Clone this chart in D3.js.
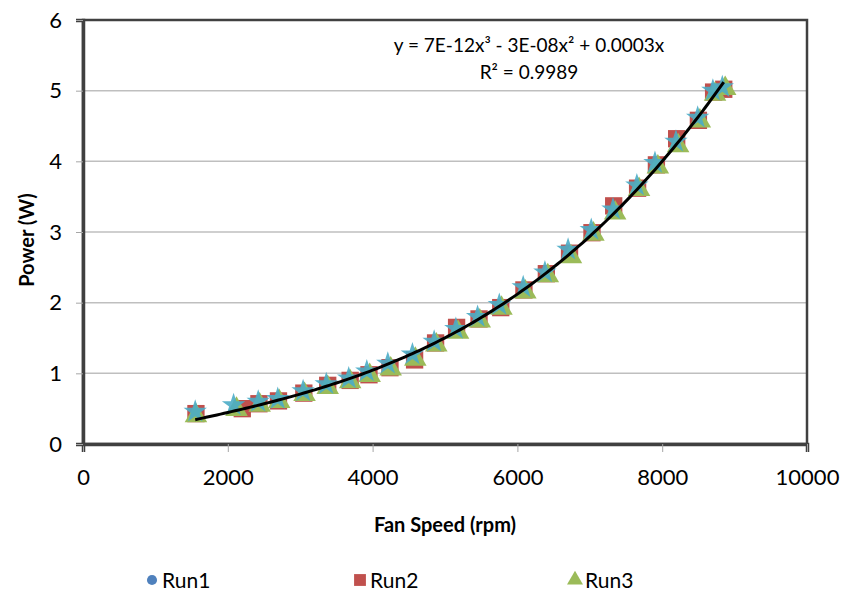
<!DOCTYPE html>
<html>
<head>
<meta charset="utf-8">
<script src="https://cdn.jsdelivr.net/npm/d3@7/dist/d3.min.js"></script>
<style>
  body { margin: 0; background: #fff; }
  text { font-family: Lato, "Noto Sans", sans-serif; fill: #000; }
</style>
</head>
<body>
<div class="chart"></div>
<script>
// fan speed (rpm) and power (W) for each run
var speed1 = [1550, 2080, 2420, 2690, 3040, 3360, 3670, 3920, 4210, 4550, 4850, 5150, 5450, 5750, 6080, 6380, 6700, 7020, 7320, 7650, 7900, 8190, 8490, 8700, 8830];
var power1 = [0.46, 0.55, 0.60, 0.64, 0.75, 0.85, 0.93, 1.03, 1.14, 1.27, 1.45, 1.63, 1.80, 1.97, 2.22, 2.43, 2.75, 3.03, 3.32, 3.66, 3.98, 4.28, 4.62, 5.00, 5.05];
var speed2 = [1560, 2200, 2430, 2700, 3050, 3380, 3690, 3950, 4240, 4580, 4870, 5160, 5470, 5770, 6090, 6400, 6720, 7030, 7330, 7660, 7920, 8200, 8500, 8710, 8850];
var power2 = [0.43, 0.50, 0.57, 0.61, 0.72, 0.83, 0.90, 0.98, 1.08, 1.19, 1.43, 1.65, 1.77, 1.93, 2.18, 2.41, 2.70, 2.99, 3.37, 3.62, 3.95, 4.32, 4.58, 4.98, 5.02];
var speed3 = [1560, 2120, 2440, 2710, 3060, 3380, 3690, 3960, 4250, 4590, 4880, 5180, 5480, 5780, 6110, 6420, 6740, 7050, 7350, 7680, 7940, 8220, 8520, 8730, 8870];
var power3 = [0.40, 0.49, 0.55, 0.60, 0.70, 0.80, 0.88, 0.97, 1.06, 1.20, 1.40, 1.58, 1.74, 1.92, 2.15, 2.38, 2.65, 2.97, 3.27, 3.60, 3.92, 4.22, 4.57, 4.95, 5.03];

var runNames = ['Run1', 'Run2', 'Run3'];
var xTicks = [0, 2000, 4000, 6000, 8000, 10000];
var yTicks = [0, 1, 2, 3, 4, 5, 6];
var equation = 'y = 7E-12x\u00b3 - 3E-08x\u00b2 + 0.0003x';
var rSquared = 'R\u00b2 = 0.9989';

var width = 842, height = 598;
var pLeft = 83, pRight = 807, pTop = 20, pBottom = 444;

var svg = d3.select('.chart')
			.append('svg')
			.attr('width', width)
			.attr('height', height);

var xscale = d3.scaleLinear().domain([0, 10000]).range([pLeft, pRight]);
var yscale = d3.scaleLinear().domain([0, 6]).range([pBottom, pTop]);

// grid lines
svg.append('g')
   .selectAll('line')
   .data(yTicks.slice(1, -1))
   .enter().append('line')
   .attr('x1', pLeft).attr('x2', pRight)
   .attr('y1', d => yscale(d)).attr('y2', d => yscale(d))
   .attr('stroke', '#bfbfbf').attr('stroke-width', 1.5);

// plot border
svg.append('rect')
   .attr('x', pLeft).attr('y', pTop)
   .attr('width', pRight - pLeft).attr('height', pBottom - pTop)
   .attr('fill', 'none').attr('stroke', '#404040').attr('stroke-width', 2.5);

// axes
var x_axis = d3.axisBottom(xscale).tickValues(xTicks).tickSize(8).tickPadding(17).tickFormat(d3.format('d'));
var y_axis = d3.axisLeft(yscale).tickValues(yTicks).tickSize(7).tickPadding(14).tickFormat(d3.format('d'));

var gx = svg.append('g').attr('transform', 'translate(0,' + pBottom + ')').call(x_axis);
var gy = svg.append('g').attr('transform', 'translate(' + pLeft + ',0)').call(y_axis);
[gx, gy].forEach(function(g) {
	g.select('.domain').attr('stroke', '#404040').attr('stroke-width', 3.5);
	g.selectAll('.tick line').attr('stroke', '#a6a6a6').attr('stroke-width', 1);
	g.selectAll('.tick text').style('font-family', 'Lato, sans-serif').style('font-size', '22px').attr('fill', '#000');
});

// axis titles
svg.append('text')
   .attr('x', (pLeft + pRight) / 2).attr('y', 532)
   .attr('text-anchor', 'middle')
   .style('font-size', '20px').style('font-weight', 'bold')
   .text('Fan Speed (rpm)');

svg.append('text')
   .attr('transform', 'translate(34,' + ((pTop + pBottom) / 2 + 8) + ') rotate(-90)')
   .attr('text-anchor', 'middle')
   .style('font-size', '20px').style('font-weight', 'bold')
   .text('Power (W)');

// markers
function pts(xs, ys) { return xs.map((x, i) => [x, ys[i]]); }

svg.append('g').selectAll('path')
   .data(pts(speed2, power2)).enter().append('path')
   .attr('d', d3.symbol().type(d3.symbolSquare).size(300))
   .attr('transform', d => 'translate(' + xscale(d[0]) + ',' + yscale(d[1]) + ')')
   .attr('fill', '#c0504d');

svg.append('g').selectAll('path')
   .data(pts(speed3, power3)).enter().append('path')
   .attr('d', d3.symbol().type(d3.symbolTriangle).size(220))
   .attr('transform', d => 'translate(' + xscale(d[0]) + ',' + yscale(d[1]) + ')')
   .attr('fill', '#9bbb59');

svg.append('g').selectAll('path')
   .data(pts(speed1, power1)).enter().append('path')
   .attr('d', d3.symbol().type(d3.symbolStar).size(170))
   .attr('transform', d => 'translate(' + xscale(d[0]) + ',' + yscale(d[1]) + ')')
   .attr('fill', '#4bacc6').attr('opacity', 0.9);

// cubic trendline through origin, least squares over all runs
var all = pts(speed1, power1).concat(pts(speed2, power2), pts(speed3, power3));
var M = [[0,0,0],[0,0,0],[0,0,0]], V = [0,0,0];
all.forEach(function(p) {
	var x = p[0] / 1000, f = [x*x*x, x*x, x];
	for (var i = 0; i < 3; i++) {
		V[i] += f[i] * p[1];
		for (var j = 0; j < 3; j++) M[i][j] += f[i] * f[j];
	}
});
function solve(A, b) {
	var n = 3, a = A.map((r, i) => r.concat([b[i]]));
	for (var i = 0; i < n; i++) {
		for (var k = i + 1; k < n; k++) {
			var m = a[k][i] / a[i][i];
			for (var j = i; j <= n; j++) a[k][j] -= m * a[i][j];
		}
	}
	var x = [0,0,0];
	for (var i = n - 1; i >= 0; i--) {
		var s = a[i][n];
		for (var j = i + 1; j < n; j++) s -= a[i][j] * x[j];
		x[i] = s / a[i][i];
	}
	return x;
}
var coef = solve(M, V);
var xmin = d3.min(all, d => d[0]), xmax = d3.max(all, d => d[0]);
var curve = d3.range(xmin, xmax + 1, 50).map(function(x) {
	var u = x / 1000;
	return [x, coef[0]*u*u*u + coef[1]*u*u + coef[2]*u];
});
svg.append('path')
   .datum(curve)
   .attr('d', d3.line().x(d => xscale(d[0])).y(d => yscale(d[1])))
   .attr('fill', 'none').attr('stroke', '#000').attr('stroke-width', 3);

// equation
svg.append('text').attr('x', 529).attr('y', 52).attr('text-anchor', 'middle')
   .style('font-size', '19px').text(equation);
svg.append('text').attr('x', 529).attr('y', 79).attr('text-anchor', 'middle')
   .style('font-size', '19px').text(rSquared);

// legend
var legendX = [152, 360, 575];
var legendSym = [d3.symbolCircle, d3.symbolSquare, d3.symbolTriangle];
var legendCol = ['#4f81bd', '#c0504d', '#9bbb59'];
var legendSize = [80, 140, 110];
var lg = svg.append('g').selectAll('g').data(runNames).enter().append('g')
   .attr('transform', (d, i) => 'translate(' + legendX[i] + ',580)');
lg.append('path')
  .attr('d', (d, i) => d3.symbol().type(legendSym[i]).size(legendSize[i])())
  .attr('fill', (d, i) => legendCol[i]);
lg.append('text').attr('x', 10).attr('y', 8)
  .style('font-size', '21px').text(d => d);
</script>
</body>
</html>
